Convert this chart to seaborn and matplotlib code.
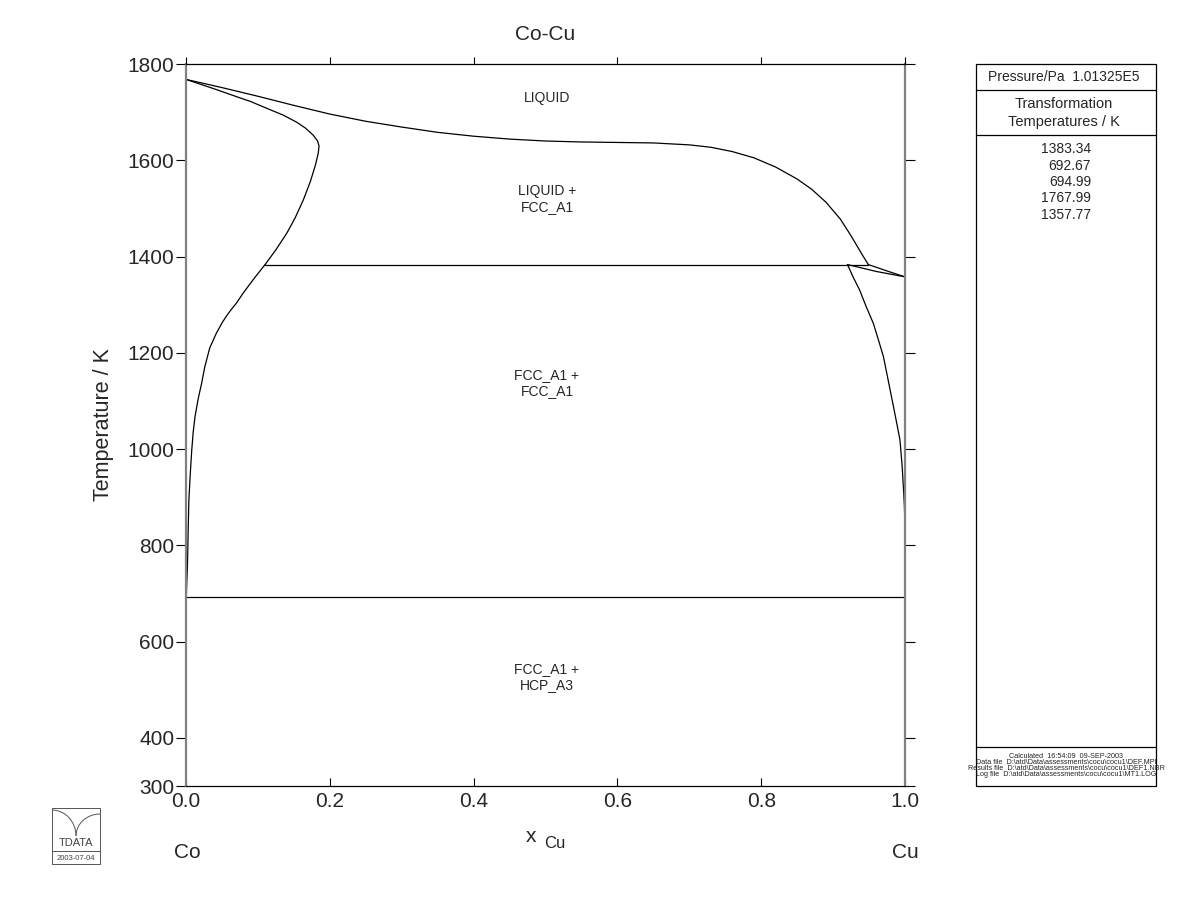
import matplotlib
matplotlib.use("Agg")
import matplotlib.pyplot as plt
import seaborn as sns
import pandas as pd
from matplotlib.patches import Rectangle, Arc

sns.set_style("white")
plt.rcParams['font.family'] = ['Liberation Sans', 'DejaVu Sans']

# ---- data ----
liquidus_x = [0.0, 0.05, 0.10, 0.15, 0.20, 0.25, 0.30, 0.35, 0.40, 0.45, 0.50, 0.55, 0.60, 0.65,
              0.70, 0.73, 0.76, 0.79, 0.82, 0.85, 0.87, 0.89, 0.91, 0.925, 0.94, 0.949]
liquidus_T = [1767.99, 1751, 1733, 1714, 1696, 1681, 1669, 1658, 1650, 1644, 1640, 1638, 1637, 1636,
              1632, 1627, 1618, 1605, 1586, 1561, 1540, 1513, 1478, 1443, 1405, 1383.34]

cu_liquidus_x = [0.949, 0.975, 1.0]
cu_liquidus_T = [1383.34, 1370, 1357.77]
cu_solidus_x = [0.920, 0.960, 1.0]
cu_solidus_T = [1383.34, 1369, 1357.77]

co_solidus_x = [0.0, 0.02, 0.04, 0.0705, 0.09, 0.117, 0.135, 0.154, 0.166, 0.177, 0.183, 0.185,
                0.184, 0.180, 0.173, 0.163, 0.152, 0.140, 0.125, 0.110]
co_solidus_T = [1767.99, 1758, 1748, 1732, 1722, 1705, 1694, 1679, 1667, 1652, 1640, 1630,
                1615, 1590, 1556, 1517, 1481, 1448, 1414, 1383.34]

co_gap_x = [0.110, 0.095, 0.080, 0.070, 0.063, 0.057, 0.050, 0.042, 0.033, 0.026, 0.0218, 0.017,
            0.0125, 0.010, 0.008, 0.006, 0.004, 0.003, 0.002, 0.001, 0.0004, 0.0004]
co_gap_T = [1383.34, 1355, 1325, 1303, 1290, 1278, 1262, 1240, 1210, 1170, 1137, 1105,
            1067, 1035, 998, 950, 894, 830, 755, 720, 692.67, 300]

cu_gap_x = [0.920, 0.928, 0.937, 0.946, 0.956, 0.963, 0.970, 0.977, 0.984, 0.989, 0.993, 0.996,
            0.998, 0.9992, 0.9997, 0.9997]
cu_gap_T = [1383.34, 1357, 1330, 1296, 1261, 1227, 1192, 1140, 1088, 1050, 1019, 965,
            915, 880, 850, 300]

peritectic_x = [0.110, 0.949]
peritectic_T = [1383.34, 1383.34]
eutectoid_x = [0.0, 1.0]
eutectoid_T = [692.67, 692.67]

region_labels = ["LIQUID", "LIQUID +\nFCC_A1", "FCC_A1 +\nFCC_A1", "FCC_A1 +\nHCP_A3"]
region_x = [0.502, 0.502, 0.502, 0.502]
region_T = [1729, 1520, 1137, 527]

transformation_T = ["1383.34", "692.67", "694.99", "1767.99", "1357.77"]
y_ticks = [300, 400, 600, 800, 1000, 1200, 1400, 1600, 1800]
x_ticks = [0.0, 0.2, 0.4, 0.6, 0.8, 1.0]

curves = {
    "liquidus": (liquidus_x, liquidus_T),
    "cu_liquidus": (cu_liquidus_x, cu_liquidus_T),
    "cu_solidus": (cu_solidus_x, cu_solidus_T),
    "co_solidus": (co_solidus_x, co_solidus_T),
    "co_gap": (co_gap_x, co_gap_T),
    "cu_gap": (cu_gap_x, cu_gap_T),
    "peritectic": (peritectic_x, peritectic_T),
    "eutectoid": (eutectoid_x, eutectoid_T),
}
rows = []
for name, (xs, ts) in curves.items():
    for i, (xv, tv) in enumerate(zip(xs, ts)):
        rows.append({"curve": name, "order": i, "x": xv, "T": tv})
df = pd.DataFrame(rows)

W, H = 1200, 923
fig = plt.figure(figsize=(12, 9.23), dpi=100)
ax = fig.add_axes([186 / W, 1 - 786 / H, 719 / W, 722 / H])

sns.lineplot(data=df, x="x", y="T", units="curve", estimator=None, sort=False,
             color="black", linewidth=0.9, ax=ax, legend=False)

ax.set_xlim(0, 1)
ax.set_ylim(300, 1800)
ax.set_xticks(x_ticks)
ax.set_xticklabels([f"{v:.1f}" for v in x_ticks])
ax.set_yticks(y_ticks)
ax.set_yticklabels([str(v) for v in y_ticks])
ax.set_xlabel("")
ax.set_ylabel("")
ax.tick_params(axis="y", which="major", left=True, right=True, direction="out",
               length=7, width=0.8, labelsize=15, pad=1.5, color="black")
ax.tick_params(axis="x", which="major", bottom=True, top=False, direction="in",
               length=6, width=0.8, labelsize=15, pad=4, color="black")
for side in ["left", "right"]:
    ax.spines[side].set_color("#808080")
    ax.spines[side].set_linewidth(1.6)
for side in ["top", "bottom"]:
    ax.spines[side].set_color("black")
    ax.spines[side].set_linewidth(0.9)

top = ax.twiny()
top.set_xlim(0, 1)
top.set_xticks(x_ticks)
top.tick_params(axis="x", direction="out", length=5, width=0.8, labeltop=False, color="black")
top.spines[:].set_visible(False)

for lab, xv, tv in zip(region_labels, region_x, region_T):
    ax.text(xv, tv, lab, ha="center", va="center", fontsize=10, linespacing=1.15)

# ---- figure-level texts in pixel coordinates ----
ov = fig.add_axes([0, 0, 1, 1], zorder=-1)
ov.set_xlim(0, W)
ov.set_ylim(H, 0)
ov.axis("off")

ov.text(545, 34, "Co-Cu", ha="center", va="center", fontsize=15)
ov.text(103, 425, "Temperature / K", ha="center", va="center", rotation=90, fontsize=15.5)
ov.text(531, 836, "x", ha="center", va="center", fontsize=15)
ov.text(544, 844, "Cu", ha="left", va="center", fontsize=12)
ov.text(187, 852, "Co", ha="center", va="center", fontsize=15)
ov.text(905, 852, "Cu", ha="center", va="center", fontsize=15)

# right information panel
bx0, bx1, by0, by1 = 976, 1156, 64, 786
ov.add_patch(Rectangle((bx0, by0), bx1 - bx0, by1 - by0, fill=False, ec="black", lw=0.9))
for yy in [90, 135, 747]:
    ov.plot([bx0, bx1], [yy, yy], color="black", lw=0.9)
ov.text(988, 77, "Pressure/Pa  1.01325E5", ha="left", va="center", fontsize=10)
ov.text(1064, 104, "Transformation", ha="center", va="center", fontsize=10.5)
ov.text(1064, 122, "Temperatures / K", ha="center", va="center", fontsize=10.5)
for i, t in enumerate(transformation_T):
    ov.text(1091, 149 + i * 16.5, t, ha="right", va="center", fontsize=10)

calc_lines = ["Calculated  16:54:09  09-SEP-2003",
              "Data file  D:\\atd\\Data\\assessments\\cocu\\cocu1\\DEF.MPI",
              "Results file  D:\\atd\\Data\\assessments\\cocu\\cocu1\\DEF1.NBR",
              "Log file  D:\\atd\\Data\\assessments\\cocu\\cocu1\\MT1.LOG"]
for i, t in enumerate(calc_lines):
    ov.text(1066, 756 + i * 6, t, ha="center", va="center", fontsize=5.2)

# TDATA logo
lx0, lx1, ly0, ly1 = 52, 100, 808, 864
ov.add_patch(Rectangle((lx0, ly0), lx1 - lx0, ly1 - ly0, fill=False, ec="#555555", lw=0.7))
ov.plot([lx0, lx1], [851, 851], color="#555555", lw=0.7)
ov.add_patch(Arc((lx0, 836), 48, 52, theta1=270, theta2=360, color="#555555", lw=0.7))
ov.add_patch(Arc((lx1, 836), 48, 44, theta1=180, theta2=270, color="#555555", lw=0.7))
ov.text(76, 843, "TDATA", ha="center", va="center", fontsize=8, color="#444444")
ov.text(76, 858, "2003-07-04", ha="center", va="center", fontsize=5.5, color="#444444")

fig.savefig("out.png", dpi=100)
